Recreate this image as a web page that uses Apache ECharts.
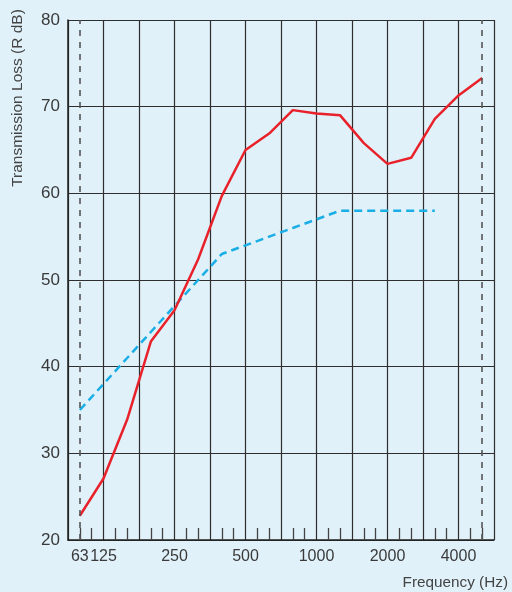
<!DOCTYPE html>
<html>
<head>
<meta charset="utf-8">
<script src="https://cdn.jsdelivr.net/npm/echarts@6/dist/echarts.min.js"></script>
<style>
html,body{margin:0;padding:0;background:#e0f1f9;}
#chart{width:512px;height:592px;}
</style>
</head>
<body>
<div id="chart"></div>
<script>
// One-third-octave band centre frequencies (Hz), band index i drawn at x = i + 0.5
const bandsHz = [100,125,160,200,250,315,400,500,630,800,1000,1250,1600,2000,2500,3150,4000,5000];
// Measured transmission loss (dB), red line
const measuredTL = [22.8,27.1,33.9,42.9,46.5,52.4,59.7,65.0,66.9,69.6,69.2,69.0,65.8,63.4,64.1,68.6,71.3,73.3];
// Reference curve (dB), dashed blue, 100 Hz .. 3150 Hz
const referenceTL = [35,38,41,44,47,50,53,54,55,56,57,58,58,58,58,58];
// Axis tick labels and the band index they sit at
const xTickLabels = ['63','125','250','500','1000','2000','4000'];
const xTickBandIdx = [0,1,4,7,10,13,16];
const yTicks = [20,30,40,50,60,70,80];
// Dashed vertical markers at the band range ends
const markerBandIdx = [0,17];

const measuredData = measuredTL.map((v,i)=>[i+0.5,v]);
const referenceData = referenceTL.map((v,i)=>[i+0.5,v]);
const labelPos = xTickBandIdx.map(i=>i+0.5);
const labelMap = {};
labelPos.forEach((p,k)=>{labelMap[p.toFixed(1)] = xTickLabels[k];});

const font = 'Liberation Sans, Arial, sans-serif';
const chart = echarts.init(document.getElementById('chart'));
chart.setOption({
  backgroundColor: '#e0f1f9',
  animation: false,
  grid: {left: 68, top: 20, right: 18, bottom: 52, containLabel: false},
  xAxis: {
    type: 'value', min: 0, max: 18, interval: 1.5,
    axisLine: {show: true, lineStyle: {color: '#222', width: 1.5}},
    axisTick: {show: false, inside: true},
    minorTick: {show: true, splitNumber: 3, length: 12, lineStyle: {color: '#444', width: 1.3}},
    splitLine: {show: true, lineStyle: {color: '#2e2e2e', width: 1.2}},
    axisLabel: {
      customValues: labelPos,
      formatter: v => labelMap[Number(v).toFixed(1)] || '',
      color: '#3a3a3a', fontSize: 16, fontFamily: font, margin: 9
    }
  },
  yAxis: {
    type: 'value', min: yTicks[0], max: yTicks[yTicks.length-1], interval: 10,
    axisLine: {show: true, lineStyle: {color: '#222', width: 1.5}},
    axisTick: {show: false},
    splitLine: {show: true, lineStyle: {color: '#2e2e2e', width: 1.2}},
    axisLabel: {color: '#3a3a3a', fontSize: 17, fontFamily: font, margin: 8}
  },
  graphic: [
    {type: 'text', x: 18, y: 98, rotation: Math.PI/2,
     style: {text: 'Transmission Loss (R dB)', fill: '#444', font: '15.5px ' + font, textAlign: 'center', textVerticalAlign: 'middle'}},
    {type: 'text', x: 508, y: 583,
     style: {text: 'Frequency (Hz)', fill: '#444', font: '15.3px ' + font, textAlign: 'right', textVerticalAlign: 'middle'}}
  ],
  series: [
    {
      type: 'line', data: [], silent: true,
      markLine: {
        symbol: 'none', silent: true, label: {show: false},
        lineStyle: {color: '#555', type: [6, 6], width: 1.6},
        data: markerBandIdx.map(i => ({xAxis: i + 0.5}))
      }
    },
    {
      type: 'line', data: referenceData, symbol: 'none', silent: true,
      lineStyle: {color: '#1aaee6', width: 2.5, type: [8, 5]}
    },
    {
      type: 'line', data: measuredData, symbol: 'none', silent: true,
      lineStyle: {color: '#e8212a', width: 2.5}
    }
  ]
});
</script>
</body>
</html>
